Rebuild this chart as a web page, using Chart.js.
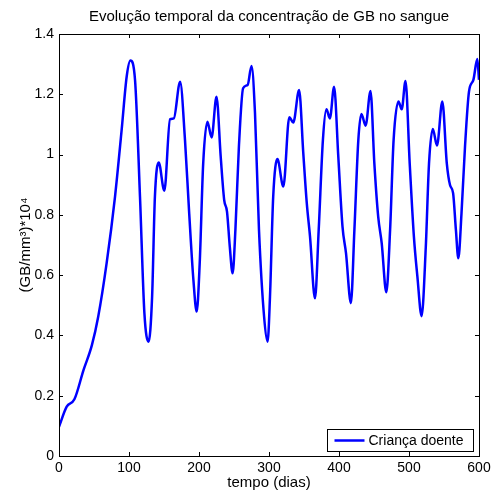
<!DOCTYPE html>
<html>
<head>
<meta charset="utf-8">
<script src="https://cdn.jsdelivr.net/npm/chart.js@4/dist/chart.umd.min.js"></script>
<style>
  html, body { margin: 0; padding: 0; background: #fff; }
  #wrap { width: 491px; height: 495px; position: relative; }
</style>
</head>
<body>
<div id="wrap"><canvas id="grafico"></canvas></div>
<script>
// tempo (dias) e concentração
const days = [0, 11, 22, 35, 47, 56, 68, 80, 89.5, 96.7, 102, 108.6, 115.7, 122, 128,
  133, 137, 142.4, 150.5, 158.6, 164, 173, 180, 186, 192, 196.7, 201, 206, 212, 218,
  225, 231, 236, 240, 244, 248, 252, 257, 263, 269.5, 275, 280, 285.7, 293, 298,
  301.4, 306, 312, 320.5, 329, 334.7, 343, 349, 354, 358.6, 365.7, 371, 377, 382, 387,
  393, 399, 405, 410, 417, 422, 427.6, 432, 438, 445, 450.5, 456, 461, 467.6, 473,
  478, 485, 489.6, 495, 501, 507, 512, 518, 524, 528.6, 534, 540, 547.6, 554, 558.6,
  563, 567, 570.5, 575, 580, 585.7, 592, 597.6, 600];
const gbValues = [0.097, 0.164, 0.188, 0.285, 0.368, 0.462, 0.639, 0.86, 1.082, 1.259, 1.312, 1.248, 0.86, 0.474, 0.379,
  0.528, 0.86, 0.974, 0.88, 1.117, 1.12, 1.242, 1.048, 0.805, 0.584, 0.479, 0.639, 0.971, 1.109, 1.057,
  1.192, 0.993, 0.849, 0.811, 0.694, 0.606, 0.75, 1.026, 1.22, 1.231, 1.294, 1.137, 0.75, 0.462, 0.379,
  0.528, 0.86, 0.985, 0.894, 1.124, 1.106, 1.214, 1.004, 0.838, 0.728, 0.523, 0.75, 1.048, 1.15, 1.12,
  1.225, 0.993, 0.761, 0.673, 0.507, 0.75, 1.048, 1.135, 1.096, 1.211, 0.971, 0.794, 0.706, 0.543, 0.75,
  1.048, 1.176, 1.15, 1.244, 0.971, 0.728, 0.595, 0.464, 0.694, 0.971, 1.085, 1.03, 1.176, 0.971, 0.899,
  0.872, 0.75, 0.656, 0.805, 1.026, 1.209, 1.248, 1.317, 1.248];
const xTicks = [0, 100, 200, 300, 400, 500, 600];
const yTicks = [0, 0.2, 0.4, 0.6, 0.8, 1, 1.2, 1.4];
const seriesLabel = 'Criança doente';

const FONT = 'Liberation Sans, Arial, Helvetica, sans-serif';

// MATLAB-style box with ticks pointing inwards, plus legend box
const matlabBox = {
  id: 'matlabBox',
  afterDraw(chart) {
    const { ctx, chartArea: a, scales } = chart;
    ctx.save();
    ctx.strokeStyle = '#000';
    ctx.lineWidth = 1;
    ctx.beginPath();
    xTicks.forEach(v => {
      const px = Math.round(scales.x.getPixelForValue(v)) + 0.5;
      ctx.moveTo(px, a.bottom); ctx.lineTo(px, a.bottom - 4);
      ctx.moveTo(px, a.top); ctx.lineTo(px, a.top + 4);
    });
    yTicks.forEach(v => {
      const py = Math.round(scales.y.getPixelForValue(v)) + 0.5;
      ctx.moveTo(a.left, py); ctx.lineTo(a.left + 4, py);
      ctx.moveTo(a.right, py); ctx.lineTo(a.right - 4, py);
    });
    ctx.stroke();
    ctx.strokeRect(Math.round(a.left) + 0.5, Math.round(a.top) + 0.5,
      Math.round(a.right - a.left), Math.round(a.bottom - a.top));

    // legend
    const lw = 146, lh = 22;
    const lx = Math.round(a.right) - 6 - lw + 0.5, ly = Math.round(a.bottom) - 5 - lh + 0.5;
    ctx.fillStyle = '#fff';
    ctx.fillRect(lx, ly, lw, lh);
    ctx.strokeRect(lx, ly, lw, lh);
    ctx.strokeStyle = '#0000ff';
    ctx.lineWidth = 2.5;
    ctx.beginPath();
    ctx.moveTo(lx + 7, ly + lh / 2);
    ctx.lineTo(lx + 37, ly + lh / 2);
    ctx.stroke();
    ctx.fillStyle = '#000';
    ctx.font = '14px ' + FONT;
    ctx.textBaseline = 'middle';
    ctx.fillText(chart.data.datasets[0].label, lx + 41, ly + lh / 2 + 1);
    ctx.restore();
  }
};

const ctx = document.getElementById('grafico').getContext('2d');
new Chart(ctx, {
  type: 'line',
  data: {
    datasets: [{
      label: seriesLabel,
      data: days.map((d, i) => ({ x: d, y: gbValues[i] })),
      borderColor: '#0000ff',
      borderWidth: 2.5,
      pointRadius: 0,
      cubicInterpolationMode: 'monotone',
      fill: false
    }]
  },
  options: {
    responsive: true,
    maintainAspectRatio: false,
    animation: false,
    layout: { padding: { top: 2, right: 12, left: 0, bottom: 0 } },
    plugins: {
      legend: { display: false },
      tooltip: { enabled: false },
      title: {
        display: true,
        fullSize: false,
        text: 'Evolução temporal da concentração de GB no sangue',
        color: '#000',
        font: { family: FONT, size: 15, weight: 'normal' },
        padding: { top: 6, bottom: 8 }
      }
    },
    scales: {
      x: {
        type: 'linear',
        min: 0,
        max: 600,
        afterBuildTicks: s => { s.ticks = xTicks.map(v => ({ value: v })); },
        afterFit: s => { s.height = 39; s.paddingLeft = 0; s.paddingRight = 0; },
        grid: { drawOnChartArea: false, drawTicks: false },
        border: { color: '#000' },
        ticks: { color: '#000', padding: 4, maxRotation: 0, font: { family: FONT, size: 14 } },
        title: { display: true, text: 'tempo (dias)', color: '#000', padding: { top: 0, bottom: 3 }, font: { family: FONT, size: 15 } }
      },
      y: {
        min: 0,
        max: 1.4,
        afterBuildTicks: s => { s.ticks = yTicks.map(v => ({ value: v })); },
        afterFit: s => { s.width = 59; s.paddingTop = 0; s.paddingBottom = 0; },
        grid: { drawOnChartArea: false, drawTicks: false },
        border: { color: '#000' },
        ticks: { color: '#000', padding: 5, font: { family: FONT, size: 14 }, callback: v => String(+v.toFixed(1)) },
        title: { display: true, text: '(GB/mm³)*10⁴', color: '#000', padding: { top: 17, bottom: 0 }, font: { family: FONT, size: 15 } }
      }
    }
  },
  plugins: [matlabBox]
});
</script>
</body>
</html>
